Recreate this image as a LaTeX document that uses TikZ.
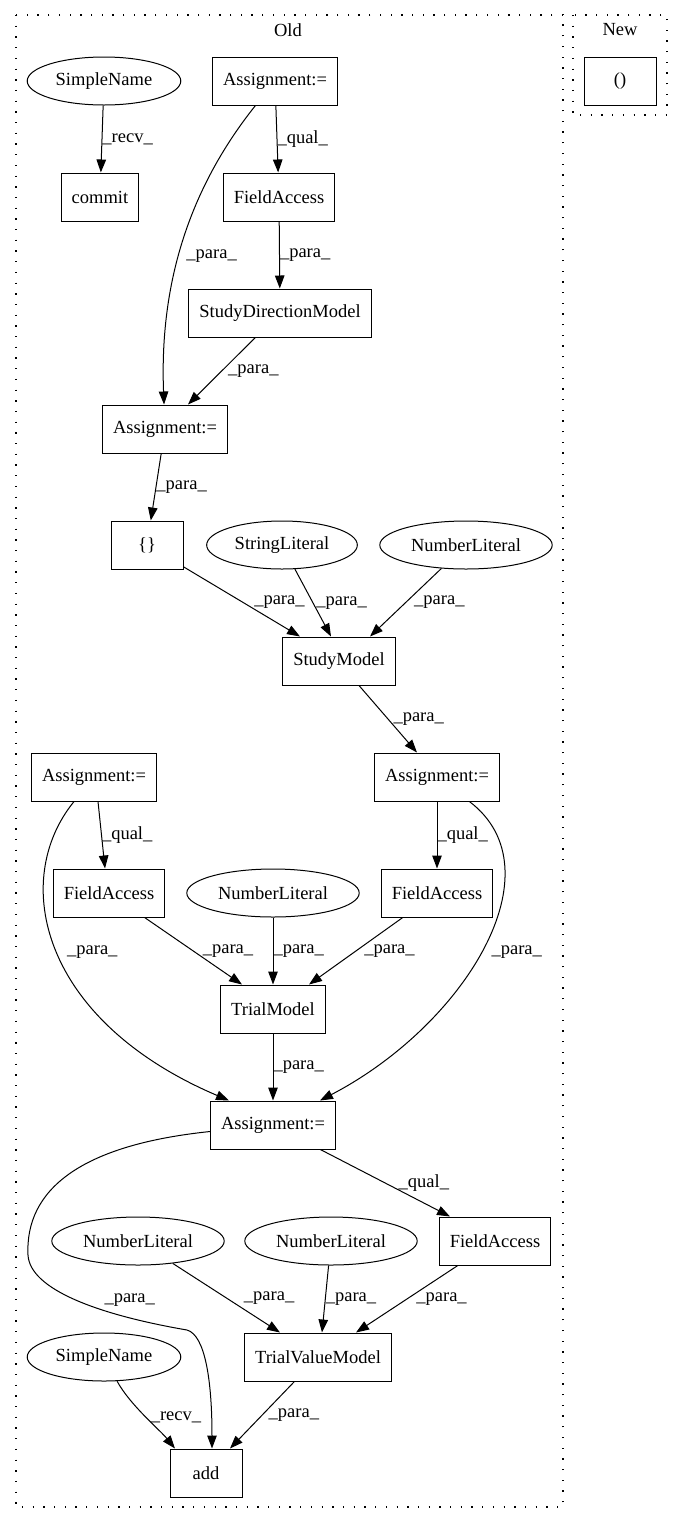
\documentclass[tikz,border=0pt]{standalone}
\usepackage{fontspec}
\setmainfont{Liberation Serif}
\usetikzlibrary{arrows.meta, shapes.geometric, positioning}

\begin{document}
\begin{tikzpicture}[x=1pt, y=-1pt,
        every node/.style={font=\fontsize{18.5}{22}\selectfont},
        box/.style={draw, rectangle, line width=1pt, minimum width=72pt, minimum height=48pt, inner xsep=10.5pt},
        oval/.style={draw, ellipse, line width=1pt, minimum height=48pt, inner xsep=6pt, inner ysep=0pt},
        arr/.style={-{Triangle[length=13pt, width=9.5pt]}, line width=1pt},
        lbl/.style={midway, anchor=west, inner sep=0pt},
        cluster/.style={line width=1.2pt, dash pattern=on 1.3pt off 9.4pt}]
        \useasboundingbox (0,0) rectangle (683,1524);
        \draw[cluster] (16,15) rectangle (563,1507);
        \draw[cluster] (573,15) rectangle (667,115);
        \node (old) at (288,30) {Old};
        \node (new) at (620,30) {New};

        \node[box] (paren) at (620,81) {()};

        \node[oval] (sn1) at (104,81) {SimpleName};
        \node[box] (commit) at (100,197) {commit};
        \node[box] (as1) at (275,81) {Assignment:=};
        \node[box] (fa1) at (279,197) {FieldAccess};
        \node[box] (sdm) at (280,313) {StudyDirectionModel};
        \node[box] (as2) at (165,429) {Assignment:=};
        \node[box] (brace) at (147,545) {\{\}};
        \node[oval] (strlit) at (282,545) {StringLiteral};
        \node[oval] (nl1) at (466,545) {NumberLiteral};
        \node[box] (sm) at (339,661) {StudyModel};
        \node[box] (asL) at (94,777) {Assignment:=};
        \node[box] (asR) at (437,777) {Assignment:=};
        \node[box] (faL) at (109,893) {FieldAccess};
        \node[oval] (nl2) at (273,893) {NumberLiteral};
        \node[box] (faR) at (437,893) {FieldAccess};
        \node[box] (tm) at (273,1009) {TrialModel};
        \node[box] (asB) at (273,1125) {Assignment:=};
        \node[oval] (nl3) at (138,1241) {NumberLiteral};
        \node[oval] (nl4) at (331,1241) {NumberLiteral};
        \node[box] (faB) at (495,1241) {FieldAccess};
        \node[oval] (sn2) at (104,1357) {SimpleName};
        \node[box] (tvm) at (318,1357) {TrialValueModel};
        \node[box] (add) at (206,1473) {add};

        \draw[arr] (sn1) -- node[lbl] {\_recv\_} (commit);
        \draw[arr] (as1) -- node[lbl] {\_qual\_} (fa1);
        \draw[arr] (as1) .. controls (180,200) and (160,300) .. (as2) node[lbl, xshift=6pt, yshift=-5pt] {\_para\_};
        \draw[arr] (fa1) -- node[lbl] {\_para\_} (sdm);
        \draw[arr] (sdm) -- node[lbl, xshift=6pt] {\_para\_} ([xshift=23pt]as2.north);
        \draw[arr] (as2) -- node[lbl] {\_para\_} (brace);
        \draw[arr] (brace) -- node[lbl, xshift=12pt] {\_para\_} ([xshift=-39pt]sm.north);
        \draw[arr] (strlit) -- node[lbl, xshift=3pt] {\_para\_} ([xshift=-8pt]sm.north);
        \draw[arr] (nl1) -- node[lbl, xshift=8pt] {\_para\_} ([xshift=31pt]sm.north);
        \draw[arr] ([xshift=20pt]sm.south) -- node[lbl, xshift=5pt] {\_para\_} ([xshift=-20pt]asR.north);
        \draw[arr] ([xshift=4pt]asL.south) -- node[lbl] {\_qual\_} ([xshift=-4pt]faL.north);
        \draw[arr] (asR) -- node[lbl] {\_qual\_} (faR);
        \draw[arr] (asL) .. controls (10,880) and (40,1020) .. ([xshift=-44pt]asB.north) node[lbl, xshift=10pt, yshift=-2pt] {\_para\_};
        \draw[arr] (asR) .. controls (560,870) and (465,1025) .. ([xshift=47pt]asB.north) node[lbl, xshift=8pt, yshift=-4pt] {\_para\_};
        \draw[arr] (faL) -- node[lbl, xshift=9pt] {\_para\_} ([xshift=-31pt]tm.north);
        \draw[arr] (nl2) -- node[lbl] {\_para\_} (tm);
        \draw[arr] (faR) -- node[lbl, xshift=8pt] {\_para\_} ([xshift=36pt]tm.north);
        \draw[arr] (tm) -- node[lbl] {\_para\_} (asB);
        \draw[arr] (asB) -- node[lbl, xshift=13pt] {\_qual\_} ([xshift=-45pt]faB.north);
        \draw[arr] (asB) .. controls (80,1145) and (25,1190) .. (28,1255) .. controls (30,1290) and (100,1315) .. (187,1330) node[lbl, pos=0.6, xshift=10pt, yshift=7pt] {\_para\_} .. controls (205,1335) and (212,1380) .. ([xshift=6pt]add.north);
        \draw[arr] (nl3) -- node[lbl, xshift=17pt] {\_para\_} ([xshift=-38pt]tvm.north);
        \draw[arr] (nl4) -- node[lbl] {\_para\_} ([xshift=4pt]tvm.north);
        \draw[arr] (faB) -- node[lbl, xshift=9pt] {\_para\_} ([xshift=38pt]tvm.north);
        \draw[arr] (sn2) .. controls (130,1405) and (160,1430) .. ([xshift=-31pt]add.north) node[lbl, xshift=5pt] {\_recv\_};
        \draw[arr] (tvm) -- node[lbl, xshift=6pt] {\_para\_} ([xshift=24pt]add.north);
\end{tikzpicture}
\end{document}
